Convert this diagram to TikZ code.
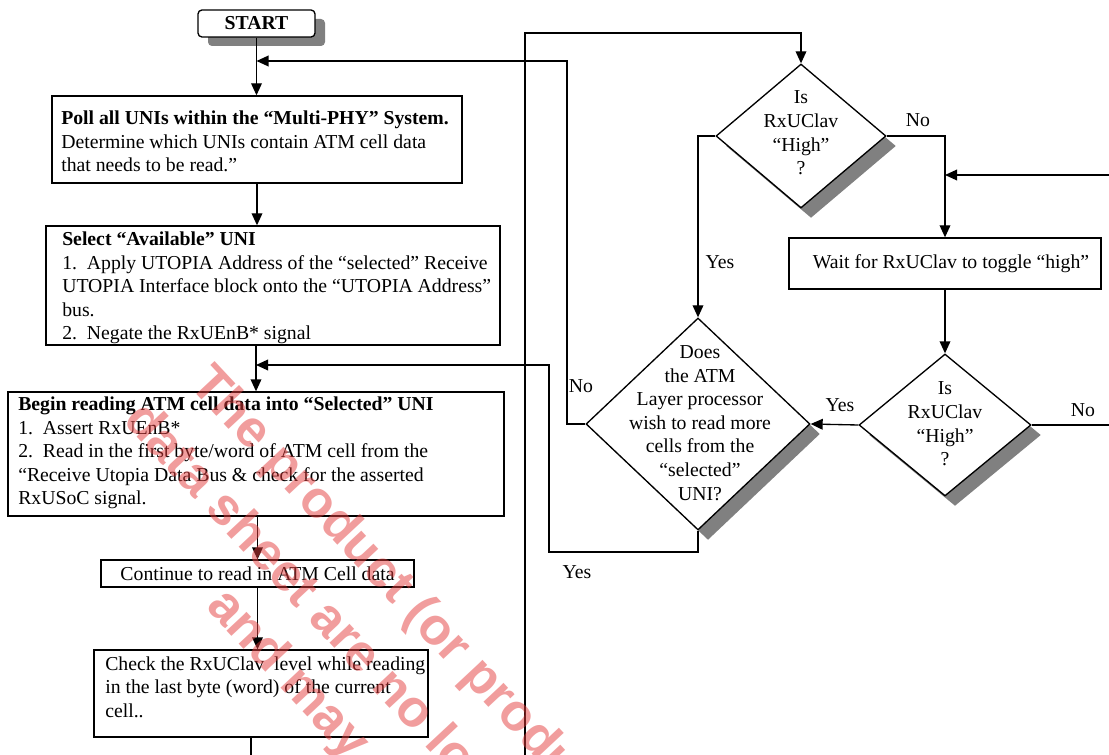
\documentclass[tikz,border=0pt]{standalone}
\usepackage{fontspec}
\setmainfont{Liberation Serif}
\newfontfamily\wmfont{Liberation Sans}
\usetikzlibrary{arrows.meta,shapes.geometric,shadows,calc}
\definecolor{shadowgray}{RGB}{128,128,128}
\definecolor{wmred}{RGB}{228,60,60}
\def\PX{0.75pt}
\begin{document}
\begin{tikzpicture}[x=0.75pt,y=-0.75pt,
  every node/.style={font=\fontsize{14.8}{17.7}\selectfont},
  box/.style={draw, line width=1pt, inner sep=0pt, fill=white},
  shbox/.style={box, drop shadow={shadow xshift=7.5pt,shadow yshift=-6.75pt,fill=shadowgray,opacity=1}},
  dia/.style={diamond, draw, line width=1pt, inner sep=0pt, fill=white,
     drop shadow={shadow xshift=7.5pt,shadow yshift=-7.5pt,fill=shadowgray,opacity=1}},
  txt/.style={inner sep=0pt, align=left, anchor=west},
  ctxt/.style={inner sep=0pt, align=center},
  lbl/.style={inner sep=0pt},
  conn/.style={line width=1pt},
  arr/.style={conn, -{Triangle[length=9pt,width=8pt]}},
  wm/.style={inner sep=0pt, anchor=base west, rotate=-47, text=wmred, text opacity=0.5,
     font=\wmfont\bfseries\fontsize{39}{46}\selectfont},
]
\useasboundingbox (0,0) rectangle (1109,755);

% ---------- left column boxes ----------
\node[shbox, rounded corners=3pt, minimum width=117*\PX, minimum height=27*\PX] (start) at (256.5,23.5) {\textbf{START}};

\node[box, minimum width=410*\PX, minimum height=87*\PX] (poll) at (257,139.5) {};
\node[txt] (pollt) at (61,141.5) {\textbf{Poll all UNIs within the “Multi-PHY” System.}\\Determine which UNIs contain ATM cell data\\that needs to be read.”};

\node[box, minimum width=454*\PX, minimum height=119*\PX] (select) at (273,285.5) {};
\node[txt] (selectt) at (62,288) {\textbf{Select “Available” UNI}\\1.\ \ Apply UTOPIA Address of the “selected” Receive\\UTOPIA Interface block onto the “UTOPIA Address”\\bus.\\2.\ \ Negate the RxUEnB* signal};

\node[box, minimum width=496*\PX, minimum height=124*\PX] (begin) at (256,454) {};
\node[txt] (begint) at (18,453) {\textbf{Begin reading ATM cell data into “Selected” UNI}\\1.\ \ Assert RxUEnB*\\2.\ \ Read in the first byte/word of ATM cell from the\\“Receive Utopia Data Bus \& check for the asserted\\RxUSoC signal.};

\node[box, minimum width=313*\PX, minimum height=27*\PX] (cont) at (257.5,573.5) {Continue to read in ATM Cell data};

\node[box, minimum width=334*\PX, minimum height=87*\PX] (check) at (261,693.5) {};
\node[txt] (checkt) at (105,687) {Check the RxUClav\ \ level while reading\\in the last byte (word) of the current\\cell..};

% ---------- right side ----------
\node[dia, minimum width=170*\PX, minimum height=144*\PX] (d1) at (801,136) {};
\node[ctxt] (d1t) at (801,133) {Is\\RxUClav\\“High”\\?};

\node[box, minimum width=312*\PX, minimum height=51*\PX] (wait) at (945,263.5) {};
\node[ctxt] (waitt) at (951,263.5) {Wait for RxUClav to toggle “high”};

\node[dia, minimum width=224*\PX, minimum height=212*\PX] (d2) at (698,424) {};
\node[ctxt] (d2t) at (700,423) {Does\\the ATM\\Layer processor\\wish to read more\\cells from the\\“selected”\\UNI?};

\node[dia, minimum width=172*\PX, minimum height=142*\PX] (d3) at (945,425) {};
\node[ctxt] (d3t) at (945,424) {Is\\RxUClav\\“High”\\?};

% free ends
\coordinate (edgeA) at (1109,175);
\coordinate (edgeB) at (1109,425);
\coordinate (botL) at (525,755);
\coordinate (botC) at (251,755);

% ---------- connectors ----------
\draw[arr] (start.south) -- (start.south |- poll.north);
\draw[arr] (poll.south) -- (poll.south |- select.north);
\draw[arr] (begin.north |- select.south) -- (begin.north);
\draw[arr] (cont.north |- begin.south) -- (cont.north);
\draw[arr] (cont.south) -- (cont.south |- check.north);
\draw[conn] (botC |- check.south) -- (botC);

\draw[arr] (botL) -- (525,33) -- (d1.north |- 0,33) -- (d1.north);
\draw[arr] (d1.east) -| (wait.north);
\draw[arr] (edgeA) -- (wait.north |- edgeA);
\draw[arr] (wait.south) -- (wait.south |- d3.north);
\draw[arr] (d1.west) -| (d2.north);
\draw[arr] (d3.west) -- (d2.east);
\draw[conn] (d3.east) -- (edgeB);
\draw[arr] (d2.west) -- (567,424) -- (567,61) -- (start.south |- 0,61);
\draw[arr] (d2.south) -- (698,552) -- (549,552) -- (549,365) -- (begin.north |- 0,365);

% ---------- labels ----------
\node[lbl] (lno1) at (918,120) {No};
\node[lbl] (lyes1) at (720,262) {Yes};
\node[lbl] (lno2) at (581,386) {No};
\node[lbl] (lyes2) at (840,405) {Yes};
\node[lbl] (lno3) at (1083,410) {No};
\node[lbl] (lyes3) at (577,572) {Yes};

% ---------- watermark ----------
\begin{scope}
\clip (0,0) rectangle (1109,755);
\node[wm] (wm1) at (188,385) {The product (or produc};
\node[wm] (wm2) at (122,421) {data sheet are no lon};
\node[wm] (wm3) at (205,607) {and may n};
\end{scope}
\end{tikzpicture}
\end{document}
